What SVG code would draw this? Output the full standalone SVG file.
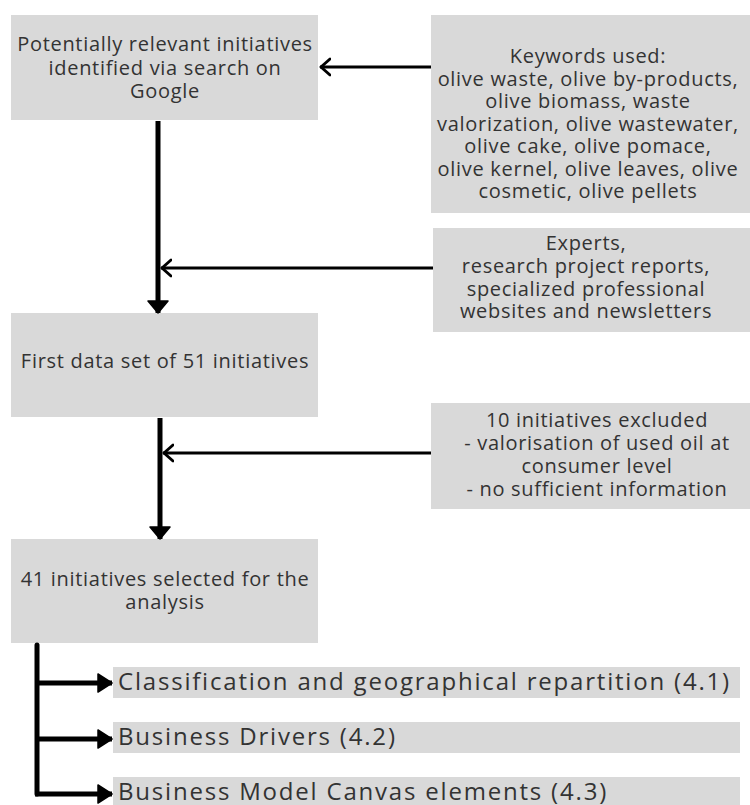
<svg xmlns="http://www.w3.org/2000/svg" width="750" height="805" viewBox="0 0 750 805">
<defs>
<style>
.box{fill:#d9d9d9}
.t{font-family:"Open Sans","DejaVu Sans",sans-serif;font-size:20px;letter-spacing:0.7px;fill:#333;text-anchor:middle}
.tl{font-family:"Open Sans","DejaVu Sans",sans-serif;font-size:24px;letter-spacing:1.8px;fill:#333}
.thick{stroke:#000;stroke-width:5;fill:none}
.thin{stroke:#000;stroke-width:3;fill:none}
</style>
<marker id="open" viewBox="0 0 12 20" refX="11" refY="10" markerWidth="12" markerHeight="20" markerUnits="userSpaceOnUse" orient="auto">
<path d="M1,2 L10,10 L1,18" fill="none" stroke="#000" stroke-width="3" stroke-linecap="round" stroke-linejoin="round"/>
</marker>
<marker id="tri" viewBox="0 0 16 20" refX="15" refY="10" markerWidth="16" markerHeight="20" markerUnits="userSpaceOnUse" orient="auto">
<path d="M1,1 L15,10 L1,19 Z" fill="#000" stroke="#000" stroke-width="1.5" stroke-linejoin="round"/>
</marker>
<marker id="triD" viewBox="0 0 22 14" refX="11" refY="13" markerWidth="22" markerHeight="14" markerUnits="userSpaceOnUse" orient="0">
<path d="M1,1 L21,1 L11,13 Z" fill="#000" stroke="#000" stroke-width="1.5" stroke-linejoin="round"/>
</marker>
</defs>
<rect width="750" height="805" fill="#fff"/>

<g id="n-google">
<rect class="box" x="11" y="15" width="307" height="105"/>
<text class="t" x="165" y="51">Potentially relevant initiatives</text>
<text class="t" x="165" y="75">identified via search on</text>
<text class="t" x="165" y="98">Google</text>
</g>

<g id="n-keywords">
<rect class="box" x="431" y="15" width="319" height="198"/>
<text class="t" x="588" y="63">Keywords used:</text>
<text class="t" x="588" y="86">olive waste, olive by-products,</text>
<text class="t" x="588" y="108">olive biomass, waste</text>
<text class="t" x="588" y="131">valorization, olive wastewater,</text>
<text class="t" x="588" y="153">olive cake, olive pomace,</text>
<text class="t" x="588" y="176">olive kernel, olive leaves, olive</text>
<text class="t" x="588" y="198">cosmetic, olive pellets</text>
</g>

<g id="n-experts">
<rect class="box" x="433" y="228" width="317" height="104"/>
<text class="t" x="586" y="250">Experts,</text>
<text class="t" x="586" y="273">research project reports,</text>
<text class="t" x="586" y="296">specialized professional</text>
<text class="t" x="586" y="318">websites and newsletters</text>
</g>

<g id="n-first">
<rect class="box" x="11" y="313" width="307" height="104"/>
<text class="t" x="165" y="368">First data set of 51 initiatives</text>
</g>

<g id="n-excluded">
<rect class="box" x="431" y="403" width="319" height="106"/>
<text class="t" x="597" y="427">10 initiatives excluded</text>
<text class="t" x="597" y="450"> - valorisation of used oil at</text>
<text class="t" x="597" y="473">consumer level</text>
<text class="t" x="597" y="496"> - no sufficient information</text>
</g>

<g id="n-selected">
<rect class="box" x="11" y="539" width="307" height="104"/>
<text class="t" x="165" y="586">41 initiatives selected for the</text>
<text class="t" x="165" y="609">analysis</text>
</g>

<g id="n-classification">
<rect class="box" x="113" y="667" width="627" height="31"/>
<text class="tl" x="118" y="690">Classification and geographical repartition (4.1)</text>
</g>

<g id="n-drivers">
<rect class="box" x="113" y="722" width="627" height="31"/>
<text class="tl" x="118" y="745">Business Drivers (4.2)</text>
</g>

<g id="n-bmc">
<rect class="box" x="113" y="777" width="627" height="31"/>
<text class="tl" x="118" y="800">Business Model Canvas elements (4.3)</text>
</g>

<g id="connectors">
<line class="thin" x1="431" y1="67" x2="320" y2="67" marker-end="url(#open)"/>
<line class="thick" x1="158" y1="121" x2="158" y2="313" marker-end="url(#triD)"/>
<line class="thin" x1="433" y1="268" x2="161" y2="268" marker-end="url(#open)"/>
<line class="thick" x1="160" y1="418" x2="160" y2="539" marker-end="url(#triD)"/>
<line class="thin" x1="431" y1="453" x2="163" y2="453" marker-end="url(#open)"/>
<path class="thick" d="M37,645 L37,794" stroke-linecap="round"/>
<line class="thick" x1="37" y1="683" x2="112" y2="683" marker-end="url(#tri)"/>
<line class="thick" x1="37" y1="739" x2="112" y2="739" marker-end="url(#tri)"/>
<line class="thick" x1="35" y1="794" x2="112" y2="794" marker-end="url(#tri)"/>
</g>
</svg>
